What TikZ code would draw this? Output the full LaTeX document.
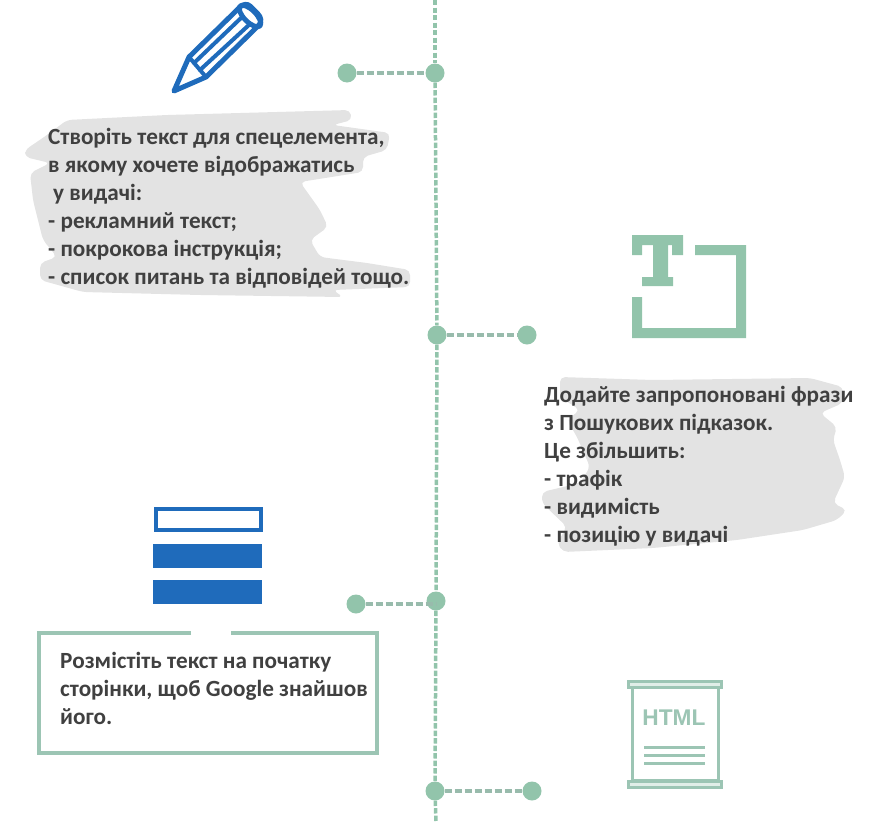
\documentclass[tikz,border=0pt]{standalone}
\usepackage{fontspec}
\setmainfont{Carlito}
\newfontfamily\iconfont{Liberation Sans}
\definecolor{timegreen}{HTML}{92C4AB}
\definecolor{framegreen}{HTML}{9CC5B4}
\definecolor{iconblue}{HTML}{1F6BBB}
\definecolor{brushgray}{HTML}{E3E3E3}
\definecolor{textgray}{HTML}{404040}
\tikzset{
  dotnode/.style={shape=circle, fill=timegreen, inner sep=0pt, minimum size=19pt},
  stemline/.style={draw=timegreen, line width=3.5pt, dash pattern=on 5.3pt off 2.2pt},
  armline/.style={draw=framegreen!85!gray, line width=3.5pt, dash pattern=on 7pt off 3pt},
  caption/.style={anchor=north west, inner sep=0pt, align=left, text=textgray,
          font=\fontsize{23.2}{28}\selectfont\bfseries},
  brush/.style={fill=brushgray, rounded corners=5pt},
  pencilline/.style={draw=iconblue, line width=5pt, line join=round, line cap=round}
}
\begin{document}
\begin{tikzpicture}[x=1pt, y=-1pt]
    \useasboundingbox (0,0) rectangle (881,822);
    % brush strokes
    \path[brush] (25,150) -- (47,135) -- (67,120) -- (167,115) -- (350,110) -- (352,120) -- (333,125) -- (390,133) -- (387,150) -- (363,157) -- (363,172) -- (300,182) -- (320,210) -- (328,227) -- (310,240) -- (320,257) -- (367,263) -- (410,270) -- (410,287) -- (333,290) -- (343,297) -- (200,295) -- (83,292) -- (40,280) -- (40,263) -- (57,257) -- (43,240) -- (33,200) -- (30,173) -- (50,163) -- (25,157) -- cycle;
    \path[brush] (560,377) -- (653,380) -- (810,378) -- (843,387) -- (843,403) -- (820,413) -- (837,427) -- (833,440) -- (840,460) -- (845,477) -- (833,503) -- (847,510) -- (837,520) -- (803,530) -- (737,540) -- (653,548) -- (563,552) -- (557,543) -- (567,527) -- (542,503) -- (542,492) -- (580,483) -- (590,467) -- (577,437) -- (567,420) -- (580,410) -- (560,397) -- cycle;
    % timeline
    \coordinate (stemtop) at (435,0);
    \coordinate (stembottom) at (436,822);
    \node[dotnode] (stemA) at (435,73) {};
    \node[dotnode] (stemB) at (437,335) {};
    \node[dotnode] (stemC) at (436,601) {};
    \node[dotnode] (stemD) at (435,791) {};
    \node[dotnode] (armA) at (347,73) {};
    \node[dotnode] (armB) at (527,335) {};
    \node[dotnode] (armC) at (356,604) {};
    \node[dotnode] (armD) at (532,791) {};
    \draw[stemline] (stemtop) -- (stemA);
    \draw[stemline] (stemA) -- (stemB);
    \draw[stemline] (stemB) -- (stemC);
    \draw[stemline] (stemC) -- (stemD);
    \draw[stemline] (stemD) -- (stembottom);
    \draw[armline] (armA) -- (stemA);
    \draw[armline] (stemB) -- (armB);
    \draw[armline] (armC) -- (armC -| stemC);
    \draw[armline] (stemD) -- (armD);
    % pencil
    \draw[pencilline] (174,91) -- (189,57) -- (240,7) to[out=45,in=135] (250,6) -- (258,14) to[out=-45,in=45] (259,25) -- (206,77) -- cycle;
    \draw[pencilline] (250,16) ellipse [x radius=14pt, y radius=6pt, rotate=-45];
    \draw[pencilline, line width=4pt] (189,57) -- (206,77);
    \draw[pencilline, line width=4pt] (194,63) -- (241,18);
    \draw[pencilline, line width=4pt] (200,70) -- (250,24);
    % T icon
    \fill[timegreen] (632,235) -- (683,235) -- (683,255) -- (672,255) -- (672,245) -- (668,245) -- (668,277) -- (673,277) -- (673,286) -- (642,286) -- (642,277) -- (653,277) -- (653,245) -- (642,245) -- (642,255) -- (632,255) -- cycle;
    \fill[timegreen] (695,245) -- (746,245) -- (746,338) -- (632,338) -- (632,297) -- (642,297) -- (642,328) -- (736,328) -- (736,255) -- (695,255) -- cycle;
    % bars icon
    \draw[iconblue, line width=4pt] (156,509) rectangle (261,530);
    \foreach \bartop in {544,580}
      \fill[iconblue] (153,\bartop) rectangle (262,\bartop+24);
    % html icon
    \draw[framegreen, line width=3pt, fill=white] (632,687) rectangle (718,780);
    \draw[framegreen, line width=3pt, fill=framegreen!30] (628,681) rectangle (721,687);
    \draw[framegreen, line width=3pt, fill=framegreen!30] (628,781) rectangle (721,787);
    \foreach \liney in {747,755,763}
      \draw[framegreen, line width=3pt] (644,\liney) -- (705,\liney);
    \node[inner sep=0pt, text=framegreen, font=\iconfont\fontsize{22.7}{24}\selectfont\bfseries] (htmltext) at (674,718) {HTML};
    % frame with a gap
    \draw[framegreen, line width=3.5pt] (191,633) -- (39,633) -- (39,753) -- (377,753) -- (377,633) -- (231,633);
    % captions
    \node[caption] (textA) at (48,128) {Створіть текст для спецелемента,\\в якому хочете відображатись\\\hspace{5pt}у видачі:\\- рекламний текст;\\- покрокова інструкція;\\- список питань та відповідей тощо.};
    \node[caption] (textB) at (544,386) {Додайте запропоновані фрази\\з Пошукових підказок.\\Це збільшить:\\- трафік\\- видимість\\- позицію у видачі};
    \node[caption] (textC) at (60,652) {Розмістіть текст на початку\\сторінки, щоб Google знайшов\\його.};
\end{tikzpicture}
\end{document}
